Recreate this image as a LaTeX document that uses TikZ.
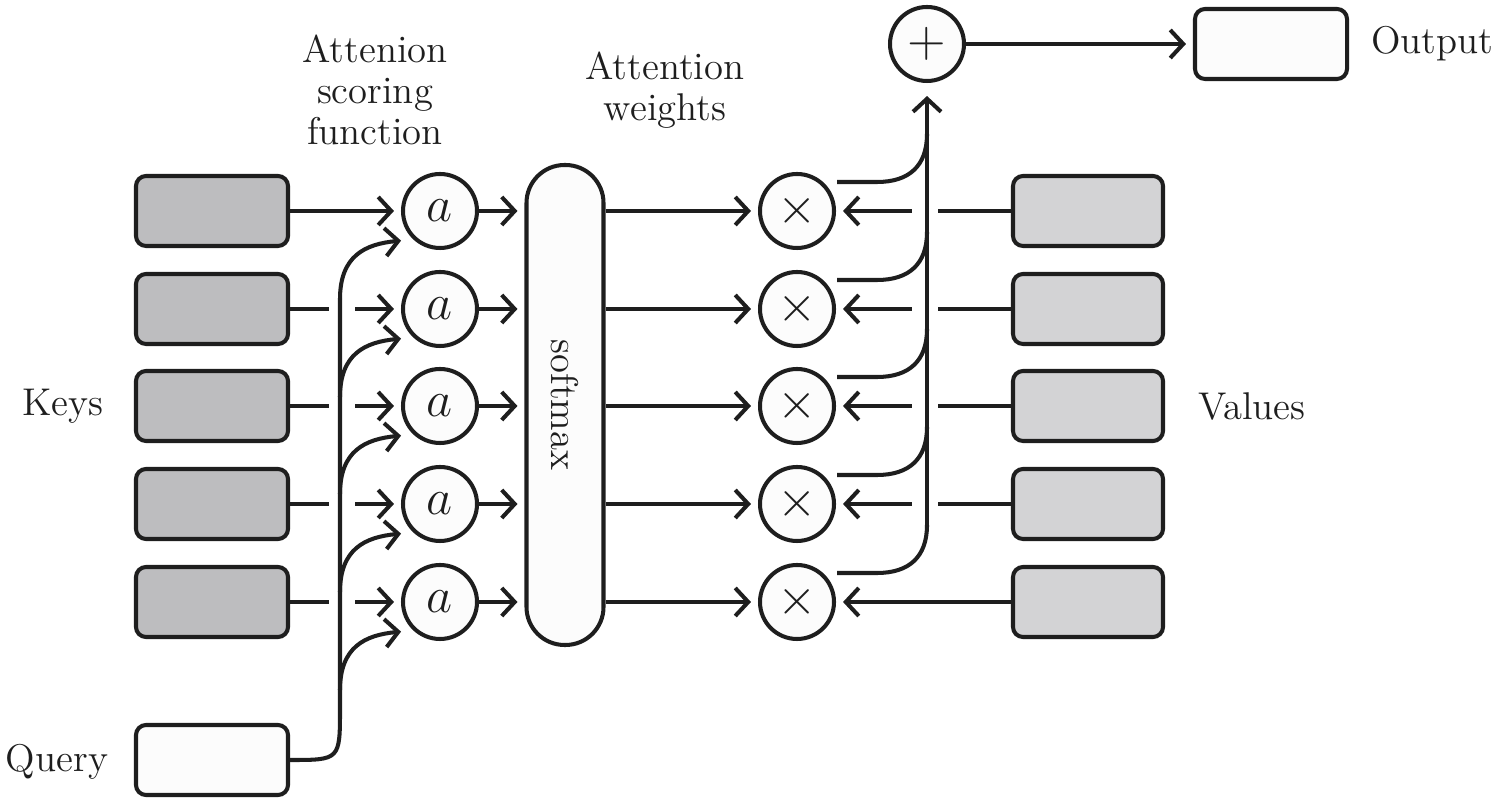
\documentclass[tikz,border=0pt]{standalone}
\usepackage{tikz}
\usetikzlibrary{arrows.meta,calc}
\definecolor{ink}{HTML}{1E1E1E}
\definecolor{keyfill}{HTML}{BDBDBF}
\definecolor{valfill}{HTML}{D3D3D5}
\definecolor{paper}{HTML}{FCFCFC}

\begin{document}
\begin{tikzpicture}[x=0.1mm, y=-0.1mm, line width=1.15pt, color=ink,
    >={Straight Barb[length=1.3mm, width=2.8mm]},
    arr/.style={->, shorten >=0.7mm},
    box/.style={draw, rounded corners=1mm, minimum width=15.2mm, minimum height=7mm, inner sep=0pt},
    op/.style={draw, circle, fill=paper, minimum size=7.4mm, inner sep=0pt, font=\fontsize{13.5}{13.5}\selectfont},
    lbl/.style={font=\fontsize{11}{11.6}\selectfont, align=center}]
    \useasboundingbox (0,0) rectangle (1500,800);

    % Knoten.
    \foreach \i/\y in {1/211,2/309,3/406,4/504,5/602}
    {
        \node[box, fill=keyfill] (k\i) at (212,\y) {};
        \node[op] (a\i) at (440,\y) {$a$};
        \node[op] (m\i) at (797,\y) {$\times$};
        \node[box, fill=valfill, minimum width=15mm] (v\i) at (1088,\y) {};
    }
    \node[box, fill=paper] (q) at (212,760) {};
    \node[draw, fill=paper, rounded corners=3.8mm, minimum width=7.7mm, minimum height=48mm] (sm) at (565,405) {};
    \node[lbl, rotate=-90] (smtxt) at (sm.center) {softmax};
    \node[op] (plus) at (927,44) {$+$};
    \node[box, fill=paper] (out) at (1271,44) {};

    % Linien.
    \draw[arr] (k1) -- (a1);
    \foreach \i in {2,...,5}
    {
        \draw (k\i.east) -- ++(39,0);
        \draw[arr] ($(k\i.east)+(65,0)$) -- (a\i);
    }
    \foreach \i in {1,...,5}
    {
        \draw[arr] (a\i) -- (a\i -| sm.west);
        \draw[arr] (m\i -| sm.east) -- (m\i);
    }

    % Query.
    \draw (q.east) .. controls (340,760) .. (340,708) -- ($(a1)+(-100,88)$);
    \foreach \i in {1,...,5}
    {
        \draw[arr] ($(a\i)+(-100,88)$) .. controls ($(a\i)+(-100,45)$) and ($(a\i)+(-75,33)$) .. ($(a\i)+(-32,29)$);
    }

    % Values.
    \foreach \i in {1,...,4}
    {
        \draw (v\i.west) -- ++(-73,0);
        \draw[arr] ($(v\i.west)+(-99,0)$) -- (m\i);
    }
    \draw[arr] (v5) -- (m5);

    % Summe.
    \foreach \i in {1,...,5}
    {
        \draw ($(m\i)+(40,-29)$) -- ++(40,0) .. controls ($(m\i)+(112,-29)$) and ($(m\i)+(130,-45)$) .. ($(m\i)+(130,-77)$);
    }
    \draw[arr, shorten >=1.3mm] ($(m5)+(130,-77)$) -- (plus);
    \draw[arr] (plus) -- (out);

    % Beschriftung.
    \node[lbl] (keys) at (63,406) {Keys};
    \node[lbl] (values) at (1252,406) {Values};
    \node[lbl] (query) at (57,762) {Query};
    \node[lbl] (output) at (1432,44) {Output};
    \node[lbl] (score) at (375,90) {Attenion\\scoring\\function};
    \node[lbl] (weights) at (665,90) {Attention\\weights};
\end{tikzpicture}
\end{document}
